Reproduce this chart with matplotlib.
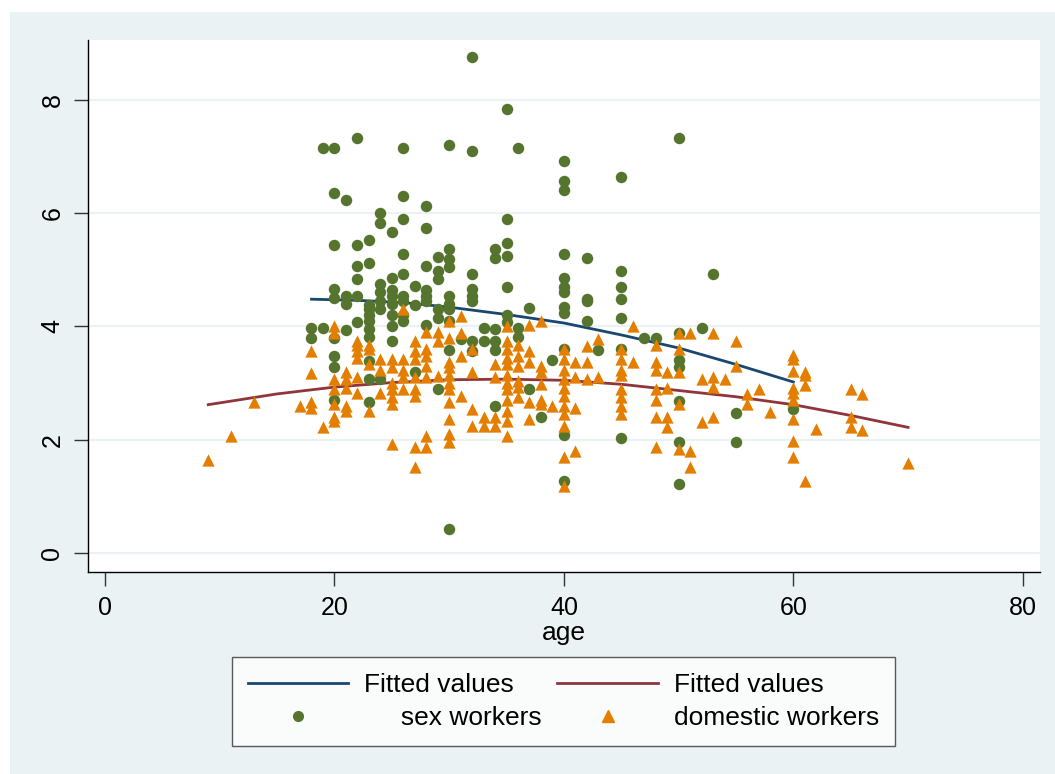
import matplotlib
matplotlib.use("Agg")
import matplotlib.pyplot as plt
from matplotlib.lines import Line2D
from matplotlib.patches import Rectangle

plt.rcParams['font.family'] = ['Liberation Sans', 'DejaVu Sans']

# sex workers (age, value)
sex_age = [32, 35, 19, 20, 22, 26, 30, 32, 36, 40, 40, 40, 45, 50,
           20, 21, 26, 28, 24, 24, 26, 25, 28, 35,
           20, 22, 23, 26, 29, 30, 30, 30, 34, 34, 35, 35,
           32, 22, 23, 22, 24, 25, 26, 27, 28, 29, 29,
           20, 25, 28, 32, 35, 21, 22, 25, 26, 28, 30, 32,
           20, 21, 23, 23, 23, 23, 23, 24, 24, 24, 25, 25, 25,
           26, 26, 26, 27, 28, 29, 29, 30, 30, 30, 32, 35, 35, 37,
           18, 19, 18, 20, 21, 22, 20, 20, 25, 23, 23, 24, 20, 23, 27, 28, 29,
           33, 33, 34, 34, 34, 32, 32, 34, 36, 36, 37, 38, 30, 30, 31,
           40, 42, 45, 45, 45, 53, 40, 40, 40, 40, 40, 42, 42, 42, 45,
           52, 47, 48, 50, 43, 39, 40, 45, 50, 50,
           40, 45, 50, 50, 55, 55, 60, 40, 50, 23]
sex_val = [8.75, 7.84, 7.14, 7.14, 7.33, 7.14, 7.2, 7.1, 7.14, 6.92, 6.57, 6.4, 6.63, 7.33,
           6.35, 6.23, 6.3, 6.12, 6.0, 5.83, 5.9, 5.67, 5.73, 5.9,
           5.43, 5.43, 5.53, 5.27, 5.23, 5.36, 5.18, 5.04, 5.37, 5.2, 5.47, 5.24,
           4.92, 5.06, 5.12, 4.83, 4.74, 4.85, 4.92, 4.71, 5.06, 4.97, 4.83,
           4.66, 4.65, 4.65, 4.66, 4.69, 4.53, 4.53, 4.53, 4.53, 4.53, 4.53, 4.53,
           4.5, 4.4, 4.38, 4.3, 4.2, 4.1, 3.95, 4.6, 4.45, 4.3, 4.4, 4.2, 4.0,
           4.45, 4.2, 4.1, 4.38, 4.45, 4.3, 4.15, 4.4, 4.3, 4.1, 4.45, 4.2, 4.07, 4.33,
           3.98, 3.98, 3.79, 3.79, 3.94, 4.08, 3.47, 3.29, 3.75, 3.82, 3.07, 3.07, 2.71, 2.66, 3.19, 4.03, 2.89,
           3.98, 3.75, 3.95, 3.75, 3.58, 3.74, 3.56, 2.59, 3.98, 3.82, 2.89, 2.4, 0.42, 3.58, 3.77,
           5.28, 5.2, 4.97, 4.69, 4.49, 4.92, 4.86, 4.69, 4.6, 4.35, 4.24, 4.49, 4.44, 4.09, 4.14,
           3.98, 3.8, 3.8, 3.89, 3.58, 3.4, 3.6, 3.6, 3.4, 3.28,
           2.08, 2.04, 2.68, 1.97, 2.48, 1.97, 2.54, 1.27, 1.22, 3.39]

# domestic workers (age, value)
dom_age = [9, 11, 13, 17,
           18, 18, 18, 18, 19,
           20, 20, 20, 20, 20, 20, 20,
           21, 21, 21, 21, 21,
           22, 22, 22, 22, 22, 22,
           23, 23, 23, 23,
           24, 24, 24,
           25, 25, 25, 25, 25, 25, 25,
           26, 26, 26, 26, 26,
           27, 27, 27, 27, 27, 27, 27, 27,
           28, 28, 28, 28, 28, 28, 28,
           29, 29, 29,
           30, 30, 30, 30, 30, 30, 30, 30, 30, 30, 30,
           31, 31, 31, 31,
           32, 32, 32, 32,
           33, 33,
           34, 34, 34, 34,
           35, 35, 35, 35, 35, 35, 35, 35, 35, 35, 35, 35,
           36, 36, 36, 36, 36, 36,
           37, 37, 37, 37, 37,
           38, 38, 38, 38, 38, 38,
           39,
           40, 40, 40, 40, 40, 40, 40, 40, 40, 40, 40,
           41, 41, 41, 41,
           42, 42, 42,
           43, 43,
           45, 45, 45, 45, 45, 45, 45, 45,
           46, 46,
           48, 48, 48, 48, 48, 48, 48,
           49, 49, 49, 49,
           50, 50, 50, 50, 50,
           51, 51, 51,
           52, 52,
           53, 53, 53, 53,
           54,
           55, 55,
           56, 56, 57, 58,
           60, 60, 60, 60, 60, 60, 60, 60, 60,
           61, 61, 61, 61, 62,
           65, 65, 65, 66, 66, 70]
dom_val = [1.64, 2.06, 2.66, 2.6,
           3.56, 3.17, 2.66, 2.57, 2.22,
           4.0, 3.89, 3.07, 2.89, 2.63, 2.41, 2.33,
           3.19, 3.07, 2.92, 2.59, 2.5,
           3.74, 3.68, 3.56, 3.45, 3.1, 2.83,
           3.68, 3.6, 3.33, 2.5,
           3.42, 3.24, 2.83,
           3.42, 3.28, 3.01, 2.89, 2.75, 2.63, 1.92,
           4.3, 3.42, 3.24, 3.1, 2.89,
           3.74, 3.56, 3.42, 3.1, 2.89, 2.77, 1.87, 1.52,
           3.91, 3.6, 3.47, 3.3, 3.1, 2.06, 1.87,
           3.91, 3.74, 3.12,
           4.09, 3.8, 3.38, 3.28, 3.15, 3.01, 2.89, 2.66, 2.36, 2.1, 1.97,
           4.18, 3.89, 3.47, 2.77,
           3.6, 3.19, 2.54, 2.24,
           2.4, 2.24,
           3.33, 3.1, 2.4, 2.24,
           4.0, 3.74, 3.6, 3.45, 3.33, 3.15, 3.01, 2.89, 2.71, 2.5, 2.33, 2.06,
           3.68, 3.47, 3.3, 3.03, 2.94, 2.75,
           4.03, 3.56, 3.38, 2.66, 2.36,
           4.09, 3.3, 3.19, 2.98, 2.71, 2.63,
           2.59,
           3.6, 3.42, 3.24, 3.07, 2.92, 2.77, 2.59, 2.45, 2.24, 1.69, 1.18,
           3.38, 3.1, 2.57, 1.8,
           3.65, 3.37, 3.07,
           3.77, 3.1,
           3.6, 3.42, 3.24, 3.15, 2.89, 2.75, 2.59, 2.45,
           4.0, 3.37,
           3.68, 3.37, 3.24, 2.89, 2.71, 2.4, 1.87,
           3.19, 2.92, 2.4, 2.22,
           3.89, 3.6, 3.19, 2.63, 1.83,
           3.89, 1.8, 1.52,
           3.07, 2.31,
           3.89, 3.1, 2.94, 2.4,
           3.08,
           3.74, 3.31,
           2.8, 2.63, 2.89, 2.49,
           3.49, 3.42, 3.21, 2.92, 2.83, 2.71, 2.36, 1.98, 1.69,
           3.2, 3.14, 2.96, 1.27, 2.2,
           2.9, 2.4, 2.22, 2.8, 2.17, 1.59]

# fitted values
fit_sex_age = [18, 22, 26, 30, 35, 40, 45, 50, 55, 60]
fit_sex_val = [4.48, 4.46, 4.42, 4.34, 4.21, 4.06, 3.85, 3.62, 3.33, 3.02]
fit_dom_age = [9, 15, 20, 25, 30, 35, 40, 45, 50, 55, 60, 65, 70]
fit_dom_val = [2.62, 2.81, 2.93, 3.01, 3.06, 3.07, 3.05, 2.98, 2.87, 2.76, 2.62, 2.43, 2.22]

bg = '#eaf2f3'
c_blue = '#1a476f'
c_red = '#90353b'
c_green = '#55752f'
c_orange = '#e37e00'

fig = plt.figure(figsize=(10.55, 7.74), dpi=100, facecolor='white')
fig.patches.append(Rectangle((10 / 1055, 0), 1 - 10 / 1055, 1 - 12 / 774,
                             transform=fig.transFigure, facecolor=bg,
                             edgecolor='none', zorder=-10))

ax = fig.add_axes([0.0834, 0.261, 0.9024, 0.6873])
ax.set_facecolor('white')

ax.plot(fit_sex_age, fit_sex_val, color=c_blue, lw=2, zorder=2)
ax.plot(fit_dom_age, fit_dom_val, color=c_red, lw=2, zorder=2)
ax.scatter(sex_age, sex_val, s=68, marker='o', color=c_green, linewidths=0, zorder=3)
ax.scatter(dom_age, dom_val, s=78, marker='^', color=c_orange, linewidths=0, zorder=4)

ax.set_xlim(-1.48, 81.5)
ax.set_ylim(-0.33, 9.05)
ax.set_xticks([0, 20, 40, 60, 80])
ax.set_yticks([0, 2, 4, 6, 8])
ax.tick_params(axis='both', labelsize=18, length=10, width=1, color='#333333', pad=7)
for lab in ax.get_yticklabels():
    lab.set_rotation(90)
    lab.set_va('center')
ax.yaxis.grid(True, color=bg, lw=1.6, zorder=0)
ax.set_axisbelow(True)
for side in ['top', 'right']:
    ax.spines[side].set_visible(False)
for side in ['left', 'bottom']:
    ax.spines[side].set_linewidth(1)
ax.set_xlabel('age', fontsize=19, labelpad=1)

handles = [Line2D([], [], color=c_blue, lw=2),
           Line2D([], [], marker='o', ls='none', color=c_green, markersize=7),
           Line2D([], [], color=c_red, lw=2),
           Line2D([], [], marker='^', ls='none', color=c_orange, markersize=8)]
labels = ['Fitted values', '     sex workers', 'Fitted values', 'domestic workers']
leg = fig.legend(handles, labels, ncol=2, loc='upper left',
                 bbox_to_anchor=(232 / 1055, 1 - 657 / 774), fontsize=19,
                 frameon=True, fancybox=False, edgecolor='#333333',
                 handlelength=3.8, handletextpad=0.6, columnspacing=0.6,
                 borderpad=0.6, labelspacing=0.35, borderaxespad=0)
leg.get_frame().set_linewidth(1)

fig.savefig('out.png', dpi=100, facecolor=fig.get_facecolor())
